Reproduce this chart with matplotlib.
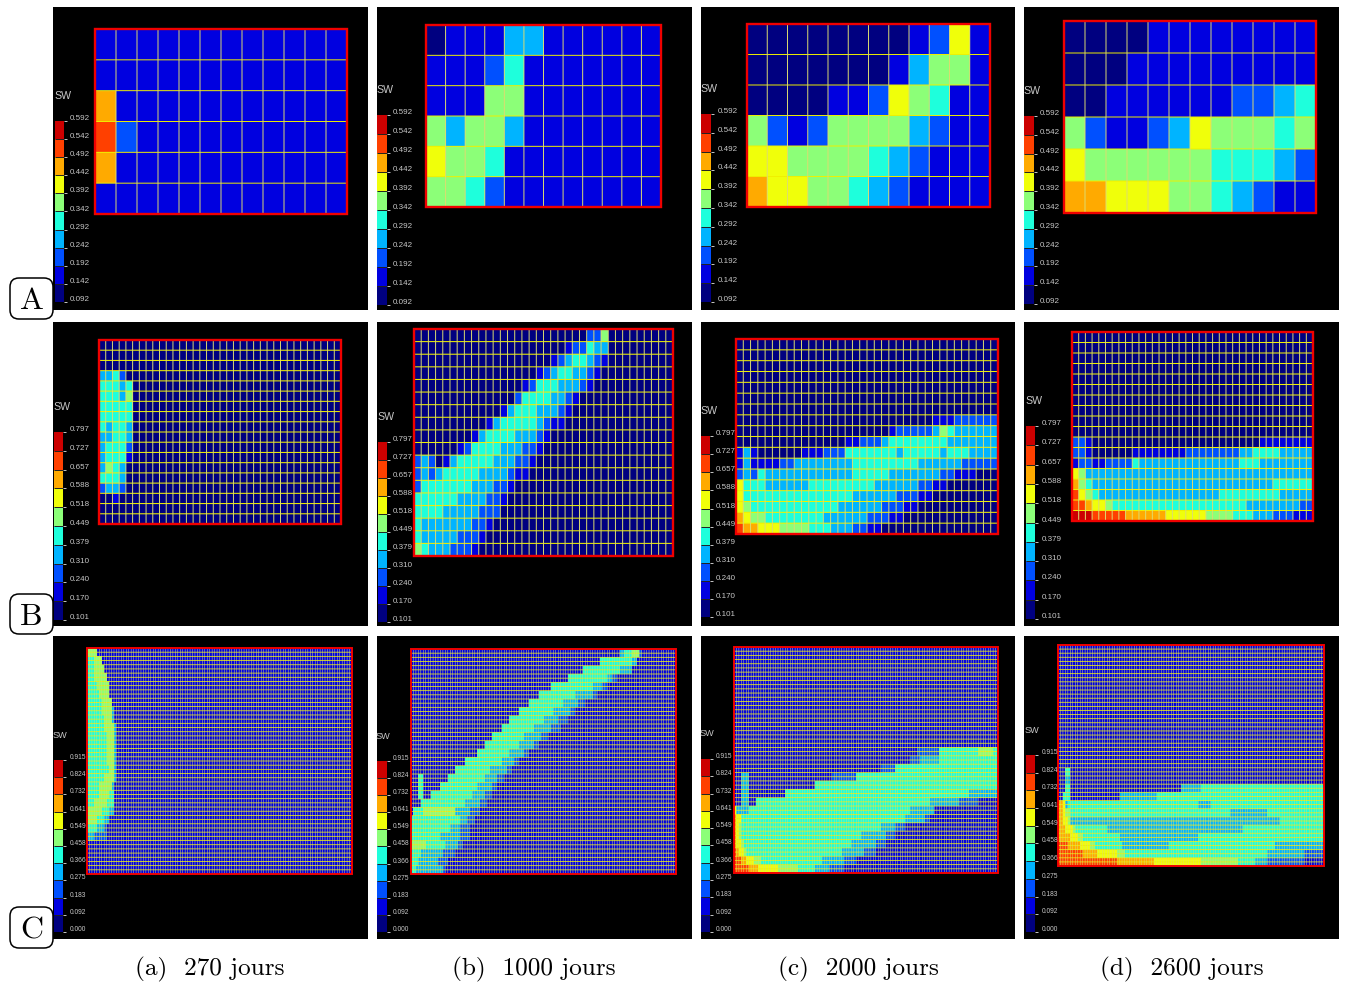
import matplotlib
matplotlib.use("Agg")
import matplotlib.pyplot as plt
import numpy as np
from matplotlib.colors import ListedColormap
from matplotlib.patches import FancyBboxPatch, Rectangle
from matplotlib.transforms import ScaledTranslation

W, H = 1346, 988

SW_COLORS = ["#000080", "#0000e0", "#0050ff", "#00b4ff", "#1effdc",
             "#8cff78", "#f0ff0a", "#ffaa00", "#ff4000", "#cc0000"]

LEVELS_A = [0.092, 0.142, 0.192, 0.242, 0.292, 0.342, 0.392, 0.442, 0.492, 0.542, 0.592]
LEVELS_B = [0.101, 0.170, 0.240, 0.310, 0.379, 0.449, 0.518, 0.588, 0.657, 0.727, 0.797]
LEVELS_C = [0.000, 0.092, 0.183, 0.275, 0.366, 0.458, 0.549, 0.641, 0.732, 0.824, 0.915]

CAPTIONS = ["(a)  270 jours", "(b)  1000 jours", "(c)  2000 jours", "(d)  2600 jours"]
ROW_TAGS = ["A", "B", "C"]

# colour class of each cell, top row first, one digit per cell
A_270 = ["111111111111", "111111111111", "711111111111",
         "821111111111", "711111111111", "111111111111"]
A_1000 = ["011133111111", "111241111111", "111551111111",
          "535531111111", "655411111111", "554211111111"]
A_2000 = ["000000001261", "000000013551", "000011265411",
          "521255553211", "665555432111", "766554321111"]
A_2600 = ["000011111111", "000111111111", "001111112234",
          "521123655545", "655555544432", "776665543211"]

# row B: 36 columns, missing cells on the right are class 0
B_270 = ["", "", "", "3342", "44434", "44435", "44444", "44444", "43443",
         "33443", "34442", "34441", "3543", "4443", "2332", "001", "", ""]
B_1000 = [
    "000000000000000000000000225",
    "000000000000000000000122433",
    "000000000000000000012344321",
    "00000000000000000123443321",
    "0000000000000001244433321",
    "00000000000000244443321",
    "0000000000001344433321",
    "000000000013444443211",
    "0000000013444433321",
    "000000124444333221",
    "23201344444333221",
    "2323444443333211",
    "24444444333221",
    "4444443333221",
    "444433333222",
    "43333333221",
    "4333332221",
    "543332221",
]
B_2000 = [
    "", "", "", "", "", "", "",
    "000000000000000000000000000111222222",
    "000000000000000000000122222354333333",
    "000000000000000112223444444443333333",
    "131000000111222444444434444434443333",
    "131111223333333344444444433333322222",
    "232433333333333344444333333322111000",
    "6444333333444444444333333221100",
    "644444444444444433333322211",
    "6544444444444433333322211",
    "76554444444433333322211",
    "87766655554443332211",
]
B_2600 = [
    "", "", "", "", "", "", "", "", "", "",
    "221000000000000000000000000011111111",
    "221000000111111112222222233444433333",
    "122112222433333333333333344433333333",
    "653333333333333333333333333333333333",
    "754333333333333333333333333333444444",
    "865433333333333333333344444444433333",
    "887665444444444444444444443333333322",
    "999888887777776666665555444333222111",
]

# row C: 27 bands of 2 mesh rows each, runs written as class:end column, rest is class 1
C_270 = [
    "5:4", "4:3 5:6", "4:3 5:7", "4:3 5:8", "4:4 5:9", "4:5 5:9", "4:6 5:10",
    "4:6 5:10 3:11", "4:7 5:10 3:11", "4:7 5:11 3:12", "4:8 5:11 3:12",
    "4:8 5:11 3:12", "4:8 5:11 3:12", "4:8 5:11 3:12", "4:9 5:11 3:12",
    "4:7 5:11 3:12", "4:5 5:10 3:11", "4:5 5:9 4:11", "4:3 5:8 4:11",
    "5:6 4:9 3:11", "5:4 4:7 3:9", "4:4 3:7 2:8", "3:3 2:8", "", "", "", "",
]
C_1000 = [
    "1:85 3:87 4:90 5:93 2:94", "1:77 4:90 3:92", "1:70 4:85 3:90",
    "1:64 4:80 3:82 2:84", "1:57 4:74 3:78 2:80", "1:52 4:67 3:74 2:76",
    "1:48 4:62 3:68 2:71", "1:44 4:58 3:65 2:67", "1:40 4:54 3:60 2:64",
    "1:37 4:50 3:57 2:61", "1:33 4:46 3:53 2:56", "1:30 4:44 3:50 2:52",
    "1:27 4:40 3:46 2:48", "1:22 4:37 3:42 2:44", "1:18 4:32 3:39 2:41",
    "1:3 4:5 1:15 4:30 3:35 2:38", "1:3 4:5 1:12 4:27 3:33 2:35",
    "1:3 4:5 1:8 4:25 3:30 2:33", "1:4 4:22 3:28 2:31", "1:1 4:5 5:18 3:24 2:28",
    "4:20 3:23 2:26", "4:16 3:20 2:24", "4:12 3:20 2:24", "5:6 4:14 3:19 2:21",
    "4:4 3:13 2:18", "4:3 3:11 2:15", "4:2 3:13 2:14",
]
C_2000 = [
    "", "", "", "", "", "", "", "", "", "", "", "",
    "1:75 2:84 4:100 5:106 4:108", "1:72 2:76 3:84 4:108", "1:60 2:66 4:108",
    "1:3 3:6 1:40 2:50 4:108", "1:3 3:6 1:33 4:108", "1:3 3:6 1:21 4:96 3:108",
    "1:3 3:6 1:9 4:80 3:92 2:100", "6:1 3:6 4:72 3:82", "7:1 6:3 4:70 3:78 2:80",
    "7:1 6:2 5:3 4:60 3:66 2:70", "7:1 6:2 5:3 4:52 3:62 2:66",
    "7:1 6:3 5:4 4:48 3:58 2:62", "8:1 7:2 6:4 5:5 4:44 3:53 2:58",
    "8:3 7:5 6:8 5:11 4:36 3:45 2:50", "8:6 7:10 6:18 5:26 4:33 3:39 2:45",
]
C_2600 = [
    "", "", "", "", "", "", "", "", "", "", "", "", "", "", "",
    "1:3 4:5", "1:3 3:5", "1:3 4:5 1:50 3:58 4:108", "1:2 4:5 1:25 3:40 4:108",
    "7:2 6:3 3:4 4:57 3:62 4:108", "7:2 6:3 5:5 4:70 3:85 4:108",
    "7:2 6:4 5:5 3:90 4:108", "7:3 6:6 5:7 4:20 3:75 4:108", "7:5 6:8 5:10 4:25 3:57 4:108",
    "8:4 7:9 6:13 5:15 4:26 3:45 4:88 3:108", "8:10 7:16 6:24 5:27 4:85 3:100 2:108",
    "8:24 7:39 6:58 5:73 4:80 3:85 2:100",
]

# panel geometry in pixels of the page, left, top, right, bottom
COL_X = [(53, 368), (377, 692), (701, 1015), (1024, 1339)]
ROW_Y = [(7, 310), (322, 626), (636, 939)]
MESH_BOX = [
    [(95, 29, 347, 214), (426, 25, 661, 207), (747, 24, 990, 207), (1064, 21, 1316, 213)],
    [(99, 340, 341, 524), (414, 329, 673, 556), (736, 339, 998, 534), (1072, 332, 1313, 521)],
    [(87, 648, 352, 874), (411, 649, 676, 874), (734, 647, 998, 873), (1058, 645, 1324, 866)],
]
BAR_BOX = [
    [(55, 121, 64, 302), (377, 115, 387, 305), (701, 114, 711, 302), (1024, 116, 1034, 304)],
    [(54, 432, 63, 620), (378, 442, 387, 622), (701, 436, 710, 617), (1026, 426, 1035, 619)],
    [(54, 760, 63, 932), (377, 761, 387, 932), (701, 759, 710, 932), (1026, 755, 1035, 932)],
]
CMAP = ListedColormap(SW_COLORS)


def px_axes(fig, box):
    x0, y0, x1, y1 = box
    ax = fig.add_axes([x0 / W, 1 - y1 / H, (x1 - x0) / W, (y1 - y0) / H])
    ax.set_xticks([])
    ax.set_yticks([])
    for s in ax.spines.values():
        s.set_visible(False)
    return ax


def digits_to_grid(rows, n_cols):
    return np.array([[int(c) for c in r.ljust(n_cols, "0")[:n_cols]] for r in rows])


def runs_to_grid(rows, n_cols):
    grid = np.ones((len(rows) * 2, n_cols), dtype=int)
    for i, row in enumerate(rows):
        start = 0
        for run in row.split():
            cls, end = run.split(":")
            grid[2 * i:2 * i + 2, start:int(end)] = int(cls)
            start = int(end)
    return grid


def draw_mesh(fig, box, grid, lw_h, lw_v, frame_lw):
    ax = px_axes(fig, box)
    n_rows, n_cols = grid.shape
    ax.pcolormesh(np.arange(n_cols + 1), np.arange(n_rows + 1), grid, cmap=CMAP,
                  vmin=0, vmax=10, antialiased=False, rasterized=True)
    ax.set_xlim(0, n_cols)
    ax.set_ylim(n_rows, 0)
    h = ax.hlines(np.arange(1, n_rows), 0, n_cols, colors="#f0f000", lw=lw_h)
    v = ax.vlines(np.arange(1, n_cols), 0, n_rows, colors="#dcdc70", lw=lw_v)
    h.set_snap(False)
    v.set_snap(False)
    ax.add_patch(Rectangle((0, 0), n_cols, n_rows, fill=False, ec="#f00000", lw=frame_lw,
                           clip_on=False, zorder=5))
    return ax


def draw_bar(fig, box, levels, font_size):
    ax = px_axes(fig, box)
    ax.pcolormesh([0, 1], levels, np.arange(10).reshape(-1, 1), cmap=CMAP, vmin=0, vmax=10,
                  edgecolors="face", lw=0)
    ax.hlines(levels[1:-1], 0, 1, colors="#202020", lw=0.7)
    ax.set_xlim(0, 1)
    ax.set_ylim(levels[0], levels[-1])
    ax.yaxis.tick_right()
    ax.set_yticks(levels, [f"{v:.3f}" for v in levels])
    ax.tick_params(axis="y", length=2.5, width=0.7, color="#c8c8c8", pad=2,
                   labelsize=font_size, labelcolor="#c8c8c8")
    shift = ScaledTranslation(0, 2.5 / 72, fig.dpi_scale_trans)
    for lab in ax.get_yticklabels():
        lab.set_fontfamily(["Liberation Sans Narrow", "Liberation Sans"])
        lab.set_transform(lab.get_transform() + shift)
    x0, y0, x1, y1 = box
    fig.text((x0 - 1) / W, 1 - (y0 - 25) / H, "SW", color="#c8c8c8", fontsize=font_size + 1.8,
             family=["Liberation Sans Narrow", "Liberation Sans"], ha="left", va="center")


def main():
    fig = plt.figure(figsize=(W / 100, H / 100), dpi=100, facecolor="white")

    for r, (y0, y1) in enumerate(ROW_Y):
        for c, (x0, x1) in enumerate(COL_X):
            bg = px_axes(fig, (x0, y0, x1, y1))
            bg.set_facecolor("black")

    a_grids = [digits_to_grid(rows, 12) for rows in (A_270, A_1000, A_2000, A_2600)]
    b_grids = [digits_to_grid(rows, 36) for rows in (B_270, B_1000, B_2000, B_2600)]
    c_grids = [runs_to_grid(rows, 108) for rows in (C_270, C_1000, C_2000, C_2600)]

    for c in range(4):
        draw_mesh(fig, MESH_BOX[0][c], a_grids[c], 0.7, 0.7, 1.7)
        draw_mesh(fig, MESH_BOX[1][c], b_grids[c], 0.75, 0.7, 1.7)
        draw_mesh(fig, MESH_BOX[2][c], c_grids[c], 0.58, 0.35, 1.4)
        draw_bar(fig, BAR_BOX[0][c], LEVELS_A, 5.8)
        draw_bar(fig, BAR_BOX[1][c], LEVELS_B, 5.8)
        draw_bar(fig, BAR_BOX[2][c], LEVELS_C, 4.8)

    # page overlay for the row tags and the captions
    page = fig.add_axes([0, 0, 1, 1], facecolor="none")
    page.set_xlim(0, W)
    page.set_ylim(H, 0)
    page.axis("off")
    tag_y = [(278, 319), (594, 634), (907, 948)]
    for tag, (t0, t1) in zip(ROW_TAGS, tag_y):
        page.add_patch(FancyBboxPatch((17, t0 + 7), 29, t1 - t0 - 14,
                                      boxstyle="round,pad=7,rounding_size=9", fc="white",
                                      ec="black", lw=1.1))
        page.text(31.5, (t0 + t1) / 2 + 3, tag, family="cmr10", fontsize=23, ha="center",
                  va="center", color="black")
    for cap, x in zip(CAPTIONS, [210, 534, 858, 1182]):
        page.text(x, 969, cap, family="cmr10", fontsize=18.2, ha="center", va="center",
                  color="black")

    fig.savefig("out.png", dpi=100)


if __name__ == "__main__":
    main()
